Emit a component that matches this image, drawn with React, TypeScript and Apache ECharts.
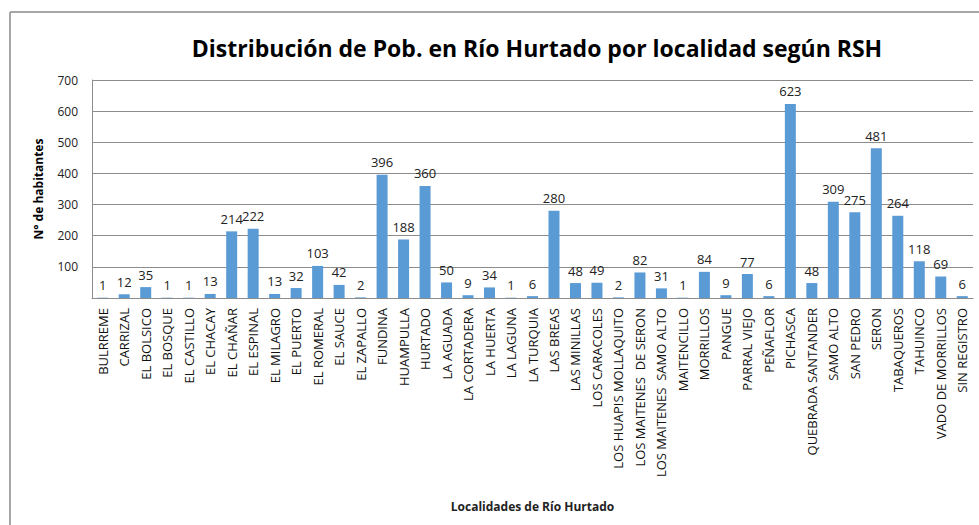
import React, { useEffect, useRef } from "react";
import * as echarts from "echarts";

const categories = [
  "BULRREME", "CARRIZAL", "EL BOLSICO", "EL BOSQUE", "EL CASTILLO", "EL CHACAY",
  "EL CHAÑAR", "EL ESPINAL", "EL MILAGRO", "EL PUERTO", "EL ROMERAL", "EL SAUCE",
  "EL ZAPALLO", "FUNDINA", "HUAMPULLA", "HURTADO", "LA AGUADA", "LA CORTADERA",
  "LA HUERTA", "LA LAGUNA", "LA TURQUIA", "LAS BREAS", "LAS MINILLAS", "LOS CARACOLES",
  "LOS HUAPIS MOLLAQUITO", "LOS MAITENES  DE SERON", "LOS MAITENES  SAMO ALTO",
  "MAITENCILLO", "MORRILLOS", "PANGUE", "PARRAL VIEJO", "PEÑAFLOR", "PICHASCA",
  "QUEBRADA SANTANDER", "SAMO ALTO", "SAN PEDRO", "SERON", "TABAQUEROS", "TAHUINCO",
  "VADO DE MORRILLOS", "SIN REGISTRO",
];

const habitantes = [
  1, 12, 35, 1, 1, 13, 214, 222, 13, 32, 103, 42, 2, 396, 188, 360, 50, 9, 34, 1, 6,
  280, 48, 49, 2, 82, 31, 1, 84, 9, 77, 6, 623, 48, 309, 275, 481, 264, 118, 69, 6,
];

const titleText = "Distribución de Pob. en Río Hurtado por localidad según RSH";
const xAxisTitle = "Localidades de Río Hurtado";
const yAxisTitle = "N° de habitantes";

export default function App() {
  const ref = useRef<HTMLDivElement>(null);
  useEffect(() => {
    if (!ref.current) return;
    const chart = echarts.init(ref.current, null, { renderer: "svg" });
    const font = "'Open Sans', 'Noto Sans', sans-serif";
    chart.setOption({
      animation: false,
      backgroundColor: "#ffffff",
      textStyle: { fontFamily: font },
      title: {
        text: titleText,
        left: 532,
        top: 31,
        textAlign: "center",
        textStyle: { fontSize: 23, fontWeight: "bold", color: "#000", fontFamily: font },
      },
      graphic: [
        { type: "line", shape: { x1: 10, y1: 12, x2: 979, y2: 12 }, style: { stroke: "#a6a6a6", lineWidth: 2 } },
        { type: "line", shape: { x1: 10, y1: 12, x2: 10, y2: 525 }, style: { stroke: "#a6a6a6", lineWidth: 2 } },
      ],
      grid: { left: 92, right: 6, top: 80, bottom: 227, containLabel: false },
      xAxis: {
        type: "category",
        data: categories,
        name: xAxisTitle,
        nameLocation: "middle",
        nameGap: 202,
        nameTextStyle: { fontSize: 12, fontWeight: "bold", color: "#222", fontFamily: font },
        axisLine: { show: true, lineStyle: { color: "#8c8c8c", width: 1 } },
        axisTick: { show: false },
        axisLabel: {
          rotate: 90,
          interval: 0,
          fontSize: 13,
          color: "#111",
          margin: 10,
          fontFamily: font,
        },
      },
      yAxis: {
        type: "value",
        min: 0,
        max: 700,
        interval: 100,
        name: yAxisTitle,
        nameLocation: "middle",
        nameGap: 48,
        nameRotate: 90,
        nameTextStyle: { fontSize: 12, fontWeight: "bold", color: "#000", fontFamily: font },
        axisLine: { show: true, lineStyle: { color: "#8c8c8c", width: 1 } },
        axisTick: { show: false },
        splitLine: { show: true, lineStyle: { color: "#8c8c8c", width: 1 } },
        axisLabel: {
          fontSize: 12,
          color: "#222",
          margin: 14,
          fontFamily: font,
          formatter: (v: number) => (v === 0 ? "" : String(v)),
        },
      },
      series: [
        {
          type: "bar",
          data: habitantes,
          barWidth: 11,
          itemStyle: { color: "#5b9bd5" },
          label: {
            show: true,
            position: "top",
            distance: 6,
            fontSize: 13,
            color: "#222",
            fontFamily: font,
          },
        },
      ],
    });
    return () => chart.dispose();
  }, []);
  return (
    <div
      ref={ref}
      style={{ position: "fixed", left: 0, top: 0, width: 979, height: 525 }}
    />
  );
}
